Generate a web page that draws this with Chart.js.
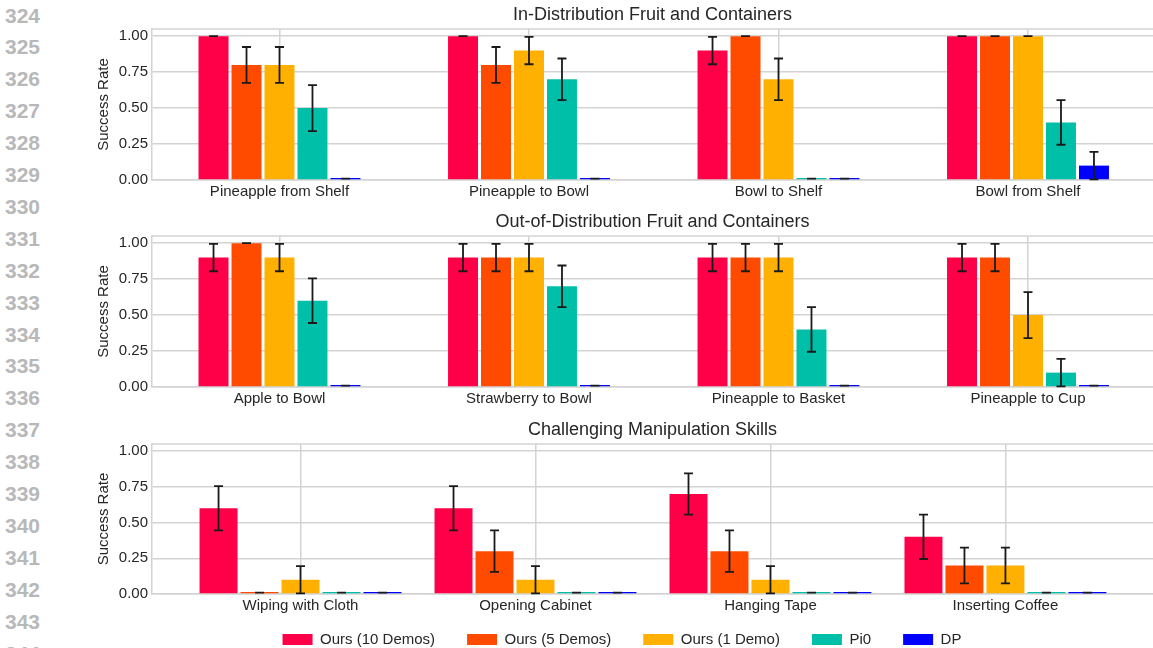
<!DOCTYPE html>
<html>
<head>
<meta charset="utf-8">
<script src="https://cdn.jsdelivr.net/npm/chart.js@4.4.1/dist/chart.umd.min.js"></script>
<style>
  html, body { margin: 0; padding: 0; background: #fff; width: 1153px; height: 648px; overflow: hidden; position: relative; font-family: "Liberation Sans", Arial, sans-serif; }
  .ln { position: absolute; left: 5px; font-weight: bold; font-size: 21px; line-height: 24px; color: #b8b8b8; }
  canvas { position: absolute; left: 0; }
</style>
</head>
<body>
<div id="lines"></div>
<canvas id="panel1" width="1153" height="205" style="top:0px"></canvas>
<canvas id="panel2" width="1153" height="205" style="top:207px"></canvas>
<canvas id="panel3" width="1153" height="242" style="top:415px"></canvas>
<script>
// ---- series ----
const seriesNames = ['Ours (10 Demos)', 'Ours (5 Demos)', 'Ours (1 Demo)', 'Pi0', 'DP'];
const seriesColors = ['#ff0048', '#ff4b00', '#ffb000', '#00bfa8', '#0000ff'];

// ---- In-distribution tasks ----
const inDistTasks = ['Pineapple from Shelf', 'Pineapple to Bowl', 'Bowl to Shelf', 'Bowl from Shelf'];
const inDistRates = [
  [1.0, 1.0, 0.9, 1.0],
  [0.8, 0.8, 1.0, 1.0],
  [0.8, 0.9, 0.7, 1.0],
  [0.5, 0.7, 0.01, 0.4],
  [0.01, 0.01, 0.01, 0.1]
];
const inDistErrors = [
  [0, 0, 0.095, 0],
  [0.125, 0.125, 0, 0],
  [0.125, 0.095, 0.145, 0],
  [0.16, 0.145, 0, 0.155],
  [0, 0, 0, 0.095]
];

// ---- Out-of-distribution tasks ----
const oodTasks = ['Apple to Bowl', 'Strawberry to Bowl', 'Pineapple to Basket', 'Pineapple to Cup'];
const oodRates = [
  [0.9, 0.9, 0.9, 0.9],
  [1.0, 0.9, 0.9, 0.9],
  [0.9, 0.9, 0.9, 0.5],
  [0.6, 0.7, 0.4, 0.1],
  [0.01, 0.01, 0.01, 0.01]
];
const oodErrors = [
  [0.095, 0.095, 0.095, 0.095],
  [0, 0.095, 0.095, 0.095],
  [0.095, 0.095, 0.095, 0.16],
  [0.155, 0.145, 0.155, 0.095],
  [0, 0, 0, 0]
];

// ---- Manipulation skills ----
const skillTasks = ['Wiping with Cloth', 'Opening Cabinet', 'Hanging Tape', 'Inserting Coffee'];
const skillRates = [
  [0.6, 0.6, 0.7, 0.4],
  [0.01, 0.3, 0.3, 0.2],
  [0.1, 0.1, 0.1, 0.2],
  [0.01, 0.01, 0.01, 0.01],
  [0.01, 0.01, 0.01, 0.01]
];
const skillErrors = [
  [0.155, 0.155, 0.145, 0.155],
  [0, 0.145, 0.145, 0.125],
  [0.095, 0.095, 0.095, 0.125],
  [0, 0, 0, 0],
  [0, 0, 0, 0]
];

const yTickValues = [0, 0.25, 0.5, 0.75, 1.0];

// ---- page line numbers ----
(function () {
  const host = document.getElementById('lines');
  for (let n = 324; n <= 344; n++) {
    const d = document.createElement('div');
    d.className = 'ln';
    d.textContent = String(n);
    d.style.top = (15 + (n - 324) * 31.9 - 11.5) + 'px';
    host.appendChild(d);
  }
})();

const FONT = '"Liberation Sans", Arial, sans-serif';
const TEXT = '#262626';
const GRID = '#d3d3d3';
Chart.defaults.font.family = FONT;
Chart.defaults.color = TEXT;

// Error bars with caps, placed through the chart's own scales
const errorBarPlugin = {
  id: 'errorBars',
  afterDatasetsDraw(chart) {
    const ctx = chart.ctx;
    const yScale = chart.scales.y;
    ctx.save();
    ctx.strokeStyle = '#1a1a1a';
    ctx.lineWidth = 1.8;
    chart.data.datasets.forEach((ds, i) => {
      const meta = chart.getDatasetMeta(i);
      meta.data.forEach((bar, j) => {
        const v = ds.data[j].y;
        const e = ds.errors[j];
        const yTop = yScale.getPixelForValue(v + e);
        const yBot = yScale.getPixelForValue(v - e);
        const x = bar.x;
        ctx.beginPath();
        ctx.moveTo(x, yTop); ctx.lineTo(x, yBot);
        ctx.moveTo(x - 4.5, yTop); ctx.lineTo(x + 4.5, yTop);
        ctx.moveTo(x - 4.5, yBot); ctx.lineTo(x + 4.5, yBot);
        ctx.stroke();
      });
    });
    ctx.restore();
  }
};

// Top edge of the axes frame and a title centred over the plot area
const framePlugin = {
  id: 'panelFrame',
  beforeDatasetsDraw(chart) {
    const { ctx, chartArea } = chart;
    ctx.save();
    ctx.strokeStyle = GRID;
    ctx.lineWidth = 1.5;
    ctx.beginPath();
    ctx.moveTo(chartArea.left, chartArea.top);
    ctx.lineTo(chartArea.right, chartArea.top);
    ctx.stroke();
    ctx.restore();
  },
  afterDraw(chart, args, opts) {
    const { ctx, chartArea } = chart;
    ctx.save();
    ctx.fillStyle = TEXT;
    ctx.font = '18px ' + FONT;
    ctx.textAlign = 'center';
    ctx.textBaseline = 'alphabetic';
    ctx.fillText(opts.text, (chartArea.left + chartArea.right) / 2, chartArea.top - 9);
    ctx.restore();
  }
};

function makePanel(id, title, tasks, rates, errors, xMin, xMax, catPct, barPct, withLegend) {
  const datasets = seriesNames.map((name, i) => ({
    label: name,
    data: rates[i].map((v, j) => ({ x: j, y: v })),
    errors: errors[i],
    backgroundColor: seriesColors[i],
    borderWidth: 0,
    minBarLength: 2,
    categoryPercentage: catPct,
    barPercentage: barPct
  }));
  return new Chart(document.getElementById(id), {
    type: 'bar',
    data: { datasets },
    plugins: [errorBarPlugin, framePlugin],
    options: {
      responsive: false,
      animation: false,
      devicePixelRatio: 1,
      layout: { padding: { top: 29, left: 91, right: 0, bottom: 0 } },
      plugins: {
        panelFrame: { text: title },
        tooltip: { enabled: false },
        legend: withLegend ? {
          display: true,
          position: 'bottom',
          labels: { boxWidth: 30, boxHeight: 11, padding: 32, color: TEXT, font: { size: 15, family: FONT } }
        } : { display: false }
      },
      scales: {
        x: {
          type: 'linear',
          min: xMin,
          max: xMax,
          offset: false,
          grid: { color: GRID, lineWidth: 1.5, drawTicks: false, offset: false },
          border: { color: GRID, width: 1.5 },
          afterBuildTicks: (s) => { s.ticks = tasks.map((_, i) => ({ value: i })); },
          afterFit: (s) => {
            // the legend sits close under the task names, so the axis box stays thin
            // and its labels are allowed to draw past it
            s.height = withLegend ? 6 : 25;
            s._computeLabelArea = () => undefined;
          },
          ticks: {
            autoSkip: false, maxRotation: 0, padding: 3, color: TEXT,
            font: { size: 15, family: FONT },
            callback: (v) => tasks[v]
          }
        },
        y: {
          min: 0,
          max: 1.05,
          grid: { color: GRID, lineWidth: 1.5, drawTicks: false },
          border: { color: GRID, width: 1.5 },
          afterBuildTicks: (s) => { s.ticks = yTickValues.map(v => ({ value: v })); },
          afterFit: (s) => { s.width = 61; },
          ticks: { padding: 4, color: TEXT, font: { size: 15, family: FONT }, callback: (v) => Number(v).toFixed(2) },
          title: { display: true, text: 'Success Rate', color: TEXT, font: { size: 15, family: FONT }, padding: { top: 4, bottom: 4 } }
        }
      }
    }
  });
}

makePanel('panel1', 'In-Distribution Fruit and Containers', inDistTasks, inDistRates, inDistErrors, -0.511, 3.501, 0.661, 0.909, false);
makePanel('panel2', 'Out-of-Distribution Fruit and Containers', oodTasks, oodRates, oodErrors, -0.511, 3.501, 0.661, 0.909, false);
makePanel('panel3', 'Challenging Manipulation Skills', skillTasks, skillRates, skillErrors, -0.632, 3.628, 0.872, 0.927, true);
</script>
</body>
</html>
